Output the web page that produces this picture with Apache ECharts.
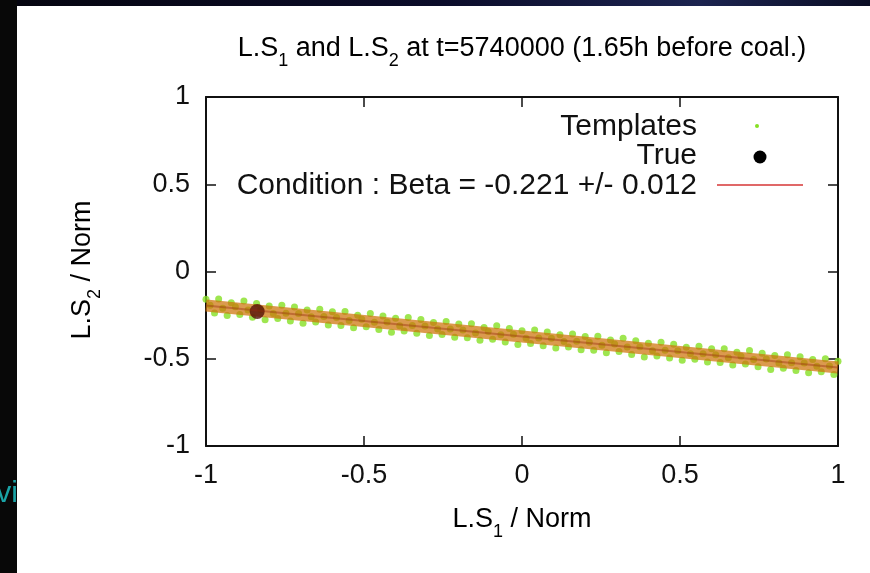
<!DOCTYPE html>
<html>
<head>
<meta charset="utf-8">
<script src="https://cdn.jsdelivr.net/npm/echarts@6/dist/echarts.min.js"></script>
<style>
  html, body { margin: 0; padding: 0; background: #fff; }
  #chart { width: 870px; height: 573px; }
</style>
</head>
<body>
<div id="chart"></div>
<script>
// Template solutions (three loose rows of scattered points along the constraint)
const templateX = [
  -1.00, -0.96, -0.92, -0.88, -0.84, -0.80, -0.76, -0.72, -0.68, -0.64,
  -0.60, -0.56, -0.52, -0.48, -0.44, -0.40, -0.36, -0.32, -0.28, -0.24,
  -0.20, -0.16, -0.12, -0.08, -0.04, 0.00, 0.04, 0.08, 0.12, 0.16,
  0.20, 0.24, 0.28, 0.32, 0.36, 0.40, 0.44, 0.48, 0.52, 0.56,
  0.60, 0.64, 0.68, 0.72, 0.76, 0.80, 0.84, 0.88, 0.92, 0.96, 1.00,
  -0.987, -0.947, -0.907, -0.867, -0.827, -0.787, -0.747, -0.707, -0.667, -0.627,
  -0.587, -0.547, -0.507, -0.467, -0.427, -0.387, -0.347, -0.307, -0.267, -0.227,
  -0.187, -0.147, -0.107, -0.067, -0.027, 0.013, 0.053, 0.093, 0.133, 0.173,
  0.213, 0.253, 0.293, 0.333, 0.373, 0.413, 0.453, 0.493, 0.533, 0.573,
  0.613, 0.653, 0.693, 0.733, 0.773, 0.813, 0.853, 0.893, 0.933, 0.973,
  -0.973, -0.933, -0.893, -0.853, -0.813, -0.773, -0.733, -0.693, -0.653, -0.613,
  -0.573, -0.533, -0.493, -0.453, -0.413, -0.373, -0.333, -0.293, -0.253, -0.213,
  -0.173, -0.133, -0.093, -0.053, -0.013, 0.027, 0.067, 0.107, 0.147, 0.187,
  0.227, 0.267, 0.307, 0.347, 0.387, 0.427, 0.467, 0.507, 0.547, 0.587,
  0.627, 0.667, 0.707, 0.747, 0.787, 0.827, 0.867, 0.907, 0.947, 0.987
];
const templateY = [
  -0.159, -0.158, -0.179, -0.169, -0.184, -0.197, -0.193, -0.204, -0.221, -0.216,
  -0.230, -0.229, -0.250, -0.240, -0.255, -0.268, -0.264, -0.275, -0.292, -0.287,
  -0.301, -0.300, -0.321, -0.311, -0.326, -0.340, -0.335, -0.346, -0.363, -0.358,
  -0.372, -0.371, -0.392, -0.382, -0.397, -0.411, -0.406, -0.417, -0.434, -0.429,
  -0.443, -0.442, -0.463, -0.453, -0.468, -0.482, -0.477, -0.488, -0.505, -0.500, -0.514,
  -0.193, -0.210, -0.202, -0.220, -0.218, -0.240, -0.239, -0.241, -0.259, -0.258,
  -0.264, -0.281, -0.273, -0.291, -0.289, -0.311, -0.310, -0.312, -0.330, -0.329,
  -0.335, -0.352, -0.344, -0.362, -0.360, -0.383, -0.381, -0.383, -0.401, -0.400,
  -0.406, -0.423, -0.415, -0.433, -0.431, -0.454, -0.452, -0.454, -0.472, -0.471,
  -0.477, -0.494, -0.486, -0.504, -0.502, -0.525, -0.523, -0.525, -0.543, -0.542,
  -0.238, -0.252, -0.246, -0.262, -0.277, -0.270, -0.283, -0.296, -0.290, -0.306,
  -0.309, -0.323, -0.317, -0.333, -0.348, -0.341, -0.354, -0.367, -0.361, -0.377,
  -0.380, -0.394, -0.388, -0.404, -0.419, -0.413, -0.425, -0.438, -0.432, -0.448,
  -0.451, -0.465, -0.459, -0.475, -0.490, -0.484, -0.496, -0.509, -0.503, -0.519,
  -0.522, -0.536, -0.530, -0.546, -0.561, -0.555, -0.567, -0.580, -0.574, -0.590
];

// True source position
const trueX = [-0.838];
const trueY = [-0.229];

// Fitted condition line end points
const conditionX = [-1, 1];
const conditionY = [-0.195, -0.550];

// Tick values
const xTicks = [-1, -0.5, 0, 0.5, 1];
const yTicks = [-1, -0.5, 0, 0.5, 1];

const FONT = "'Liberation Sans', Arial, Helvetica, sans-serif";
const FS = 27;
const KEY_FS = 30;

const zip = (xs, ys) => xs.map((x, i) => [x, ys[i]]);

const chart = echarts.init(document.getElementById('chart'), null, { renderer: 'canvas' });

const axisCommon = {
  type: 'value',
  min: -1,
  max: 1,
  interval: 0.5,
  splitLine: { show: false },
  axisLine: { show: true, onZero: false, lineStyle: { color: '#111', width: 2 } },
  axisTick: { show: true, inside: true, length: 10, lineStyle: { color: '#111', width: 1.5 } }
};

const labelStyle = { fontFamily: FONT, fontSize: FS, color: '#111' };

const subRich = {
  a: { fontFamily: FONT, fontSize: FS, color: '#111', lineHeight: 30, verticalAlign: 'top' },
  b: { fontFamily: FONT, fontSize: 18, color: '#111', lineHeight: 18, padding: [17, 0, 0, 0], verticalAlign: 'top' }
};

chart.setOption({
  animation: false,
  backgroundColor: '#ffffff',
  grid: { left: 206, right: 32, top: 97, bottom: 127, containLabel: false },
  xAxis: [
    Object.assign({}, axisCommon, {
      position: 'bottom',
      axisLabel: Object.assign({ margin: 16, formatter: v => xTicks.includes(v) ? String(v) : '' }, labelStyle)
    }),
    Object.assign({}, axisCommon, { position: 'top', axisLabel: { show: false } })
  ],
  yAxis: [
    Object.assign({}, axisCommon, {
      position: 'left',
      axisLabel: Object.assign({ margin: 16, formatter: v => yTicks.includes(v) ? String(v) : '' }, labelStyle)
    }),
    Object.assign({}, axisCommon, { position: 'right', axisLabel: { show: false } })
  ],
  series: [
    {
      name: 'Templates',
      type: 'scatter',
      data: zip(templateX, templateY),
      symbolSize: 7,
      itemStyle: { color: '#86e024' },
      z: 2
    },
    {
      name: 'Condition',
      type: 'line',
      data: zip(conditionX, conditionY),
      showSymbol: false,
      lineStyle: { color: 'rgba(205,115,10,0.72)', width: 12 },
      z: 3
    },
    {
      // true point seen through the condition band
      name: 'True',
      type: 'scatter',
      data: zip(trueX, trueY),
      symbolSize: 15,
      itemStyle: { color: '#55100a' },
      z: 4
    },
    {
      name: 'Condition core',
      type: 'line',
      data: zip(conditionX, conditionY),
      showSymbol: false,
      lineStyle: { color: 'rgba(150,40,15,0.4)', width: 2 },
      z: 5
    }
  ],
  graphic: [
    // dark frame around the page
    { type: 'rect', left: 0, top: 0, shape: { width: 17, height: 573 }, style: { fill: '#080808' }, silent: true },
    {
      type: 'rect', left: 17, top: 0, shape: { width: 853, height: 6 }, silent: true,
      style: {
        fill: new echarts.graphic.LinearGradient(0, 0, 1, 0, [
          { offset: 0, color: '#050510' },
          { offset: 0.5, color: '#0b0c2a' },
          { offset: 0.8, color: '#1c2450' },
          { offset: 1, color: '#0a0d24' }
        ])
      }
    },
    {
      type: 'text', x: 18, y: 494, silent: true,
      style: { text: 'vi', font: "30px " + FONT, fill: '#1aa3a6', textAlign: 'right', textVerticalAlign: 'middle' }
    },
    // title
    {
      type: 'text', x: 522, y: 50, silent: true,
      style: {
        text: '{a|L.S}{b|1}{a| and L.S}{b|2}{a| at t=5740000 (1.65h before coal.)}',
        textAlign: 'center', textVerticalAlign: 'middle', rich: subRich
      }
    },
    // x axis title
    {
      type: 'text', x: 522, y: 521, silent: true,
      style: { text: '{a|L.S}{b|1}{a| / Norm}', textAlign: 'center', textVerticalAlign: 'middle', rich: subRich }
    },
    // y axis title
    {
      type: 'text', x: 84, y: 270, rotation: Math.PI / 2, silent: true,
      style: { text: '{a|L.S}{b|2}{a| / Norm}', textAlign: 'center', textVerticalAlign: 'middle', rich: subRich }
    },
    // key
    {
      type: 'text', x: 697, y: 127, silent: true,
      style: { text: 'Templates', font: KEY_FS + 'px ' + FONT, fill: '#111', textAlign: 'right', textVerticalAlign: 'middle' }
    },
    {
      type: 'text', x: 697, y: 156, silent: true,
      style: { text: 'True', font: KEY_FS + 'px ' + FONT, fill: '#111', textAlign: 'right', textVerticalAlign: 'middle' }
    },
    {
      type: 'text', x: 697, y: 186, silent: true,
      style: { text: 'Condition : Beta = -0.221 +/- 0.012', font: KEY_FS + 'px ' + FONT, fill: '#111', textAlign: 'right', textVerticalAlign: 'middle' }
    },
    { type: 'circle', shape: { cx: 757, cy: 126, r: 2 }, style: { fill: '#86e024' }, silent: true },
    { type: 'circle', shape: { cx: 760, cy: 157, r: 6.5 }, style: { fill: '#000' }, silent: true },
    { type: 'line', shape: { x1: 717, y1: 185, x2: 803, y2: 185 }, style: { stroke: '#e06868', lineWidth: 2 }, silent: true }
  ]
});
</script>
</body>
</html>
